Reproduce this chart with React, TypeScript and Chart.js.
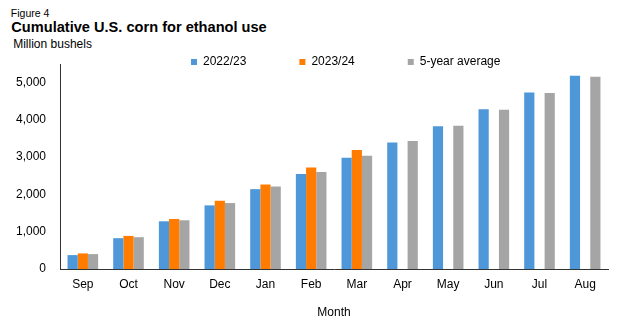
import React, { useEffect, useRef } from "react";
import { Chart, registerables } from "chart.js";

Chart.register(...registerables);

const FONT = "'Liberation Sans', Arial, sans-serif";

// ---- data ----
const months = ["Sep", "Oct", "Nov", "Dec", "Jan", "Feb", "Mar", "Apr", "May", "Jun", "Jul", "Aug"];
const mkt2022 = [373, 827, 1280, 1707, 2142, 2551, 2983, 3395, 3831, 4284, 4737, 5182];
const mkt2023 = [418, 888, 1342, 1831, 2267, 2720, 3191, null, null, null, null, null];
const avg5yr = [400, 853, 1307, 1769, 2213, 2604, 3040, 3431, 3840, 4275, 4720, 5155];
const seriesNames = ["2022/23", "2023/24", "5-year average"];
const yTickValues = [0, 1000, 2000, 3000, 4000, 5000];
const yMax = 5500;

const COLORS = ["#4E97D9", "#FF7C00", "#A5A5A5"];

const LEGEND_FIRST_BOX_X = 191;
const LEGEND_TEXT_CY = 62;
const LEGEND_PAD = 53;

const legendPlacer = {
  id: "legendPlacer",
  afterLayout(chart: any) {
    const lg = chart.legend;
    if (!lg || !lg.lineWidths) return;
    const curFirst = (lg.left + LEGEND_PAD + lg.right - lg.lineWidths[0]) / 2;
    const dx = LEGEND_FIRST_BOX_X - curFirst;
    lg.left += dx;
    lg.right += dx;
    lg.top = LEGEND_TEXT_CY - LEGEND_PAD - 6;
    lg.bottom = LEGEND_TEXT_CY + 12;
    lg.height = lg.bottom - lg.top;
  },
};

export default function App() {
  const ref = useRef<HTMLCanvasElement>(null);

  useEffect(() => {
    Chart.defaults.font.family = FONT;
    Chart.defaults.font.size = 12;
    Chart.defaults.color = "#000";
    const chart = new Chart(ref.current!, {
      type: "bar",
      data: {
        labels: months,
        datasets: [mkt2022, mkt2023, avg5yr].map((d, i) => ({
          label: seriesNames[i],
          data: d,
          backgroundColor: COLORS[i],
          borderWidth: 0,
          categoryPercentage: 0.67,
          barPercentage: 1.0,
        })),
      },
      options: {
        responsive: false,
        animation: false,
        layout: { padding: { left: 0, right: 9, top: 63, bottom: 0 } },
        plugins: {
          legend: {
            position: "top",
            align: "center",
            maxHeight: 1,
            labels: {
              boxWidth: 6,
              boxHeight: 6,
              padding: LEGEND_PAD,
              color: "#000",
              font: { size: 12, family: FONT },
            },
          },
          tooltip: { enabled: false },
          title: { display: false },
        },
        scales: {
          x: {
            grid: { display: false, drawTicks: false },
            border: { display: true, color: "#333", width: 1 },
            ticks: { padding: 8, color: "#000", font: { size: 12 } },
            title: {
              display: true,
              text: "Month",
              color: "#000",
              font: { size: 12 },
              padding: { top: 4, bottom: 4 },
            },
            afterFit: (s: any) => {
              s.height = 55;
            },
          },
          y: {
            min: 0,
            max: yMax,
            grid: { display: false, drawTicks: false },
            border: { display: true, color: "#333", width: 1 },
            ticks: {
              stepSize: 1000,
              padding: 14,
              color: "#000",
              font: { size: 12 },
              callback: (v: any) => Number(v).toLocaleString("en-US"),
            },
            afterBuildTicks: (s: any) => {
              s.ticks = yTickValues.map((v) => ({ value: v }));
            },
            afterFit: (s: any) => {
              s.width = 60;
            },
          },
        },
      },
      plugins: [legendPlacer],
    } as any);
    return () => chart.destroy();
  }, []);

  return (
    <div
      style={{
        position: "fixed",
        left: 0,
        top: 0,
        width: 617,
        height: 324,
        background: "#fff",
        fontFamily: FONT,
        color: "#000",
      }}
    >
      <div style={{ position: "absolute", left: 10.8, top: 8.4, fontSize: 10.5, lineHeight: "10.5px", whiteSpace: "nowrap" }}>
        Figure 4
      </div>
      <div
        style={{
          position: "absolute",
          left: 11.3,
          top: 20.3,
          fontSize: 14.6,
          lineHeight: "14.6px",
          fontWeight: "bold",
          whiteSpace: "nowrap",
        }}
      >
        Cumulative U.S. corn for ethanol use
      </div>
      <div style={{ position: "absolute", left: 13.2, top: 37.5, fontSize: 12, lineHeight: "12px", whiteSpace: "nowrap" }}>
        Million bushels
      </div>
      <canvas ref={ref} width={617} height={324} style={{ position: "absolute", left: 0, top: 0 }} />
    </div>
  );
}
